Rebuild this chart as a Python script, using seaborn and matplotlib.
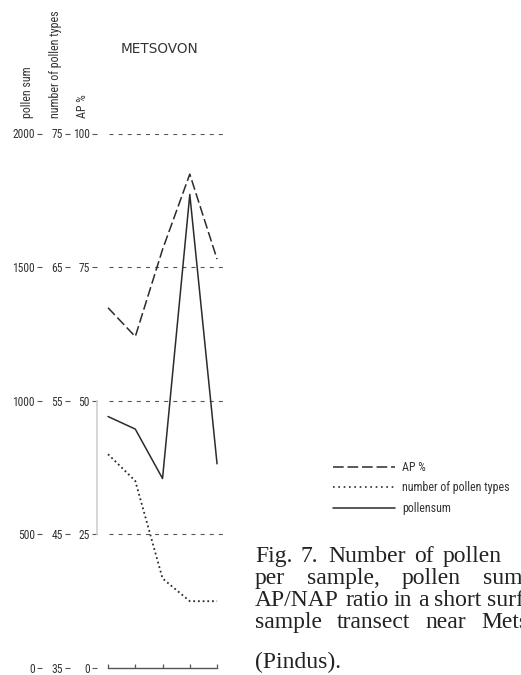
import matplotlib
matplotlib.use("Agg")
import matplotlib.pyplot as plt
from matplotlib.lines import Line2D
import pandas as pd
import seaborn as sns

# ---- data -------------------------------------------------------------
samples = [1, 2, 3, 4, 5]
pollen_sum = [941, 894, 709, 1772, 764]
ap_percent = [67.4, 62.0, 78.3, 92.4, 76.5]
pollen_types = [51.0, 49.0, 41.7, 40.0, 40.0]

sum_ticks = [0, 500, 1000, 1500, 2000]
types_ticks = [35, 45, 55, 65, 75]
ap_ticks = [0, 25, 50, 75, 100]

site_name = "METSOVON"
axis_titles = ["pollen sum", "number of pollen types", "AP %"]
legend_labels = ["AP %", "number of pollen types", "pollensum"]

# caption, justified word by word (runs off the right edge of the page)
caption_words = [
    [("Fig.", 255), ("7.", 301), ("Number", 328), ("of", 414), ("pollen", 443)],
    [("per", 255), ("sample,", 307), ("pollen", 402), ("sum", 483)],
    [("AP/NAP", 255), ("ratio", 345), ("in", 394), ("a", 418), ("short", 434), ("surface", 487)],
    [("sample", 255), ("transect", 337), ("near", 425), ("Metsovon", 481)],
    [("(Pindus).", 255)],
]
caption_baselines = [562, 584, 606, 628, 668]

# ---- style ------------------------------------------------------------
sns.set_style("white")
sans = ["Roboto Condensed", "Liberation Sans Narrow", "Noto Sans Condensed",
        "DejaVu Sans Condensed", "Roboto", "DejaVu Sans"]
plt.rcParams["font.family"] = sans
ink = "#2b2b2b"
grid_ink = "#555555"
label_ink = "#333333"

W, H = 521, 675
fig = plt.figure(figsize=(W / 100, H / 100), dpi=100)

# plotting area: sample 1 .. 5, pollen sum 0 .. 2000
ax_left_px, ax_right_px = 105.3, 222.5
ax_top_px, ax_bottom_px = 133.5, 668.0
ax = fig.add_axes([ax_left_px / W, (H - ax_bottom_px) / H,
                   (ax_right_px - ax_left_px) / W, (ax_bottom_px - ax_top_px) / H])
ax_types = ax.twinx()
ax_ap = ax.twinx()

df = pd.DataFrame({"sample": samples, "pollen_sum": pollen_sum,
                   "ap_percent": ap_percent, "pollen_types": pollen_types})

sns.lineplot(data=df, x="sample", y="pollen_sum", ax=ax, color=ink,
             linewidth=1.1, linestyle="-")
sns.lineplot(data=df, x="sample", y="pollen_types", ax=ax_types, color=ink,
             linewidth=1.3, linestyle=(0, (1, 1.6)))
sns.lineplot(data=df, x="sample", y="ap_percent", ax=ax_ap, color=ink,
             linewidth=1.1, linestyle=(0, (6.5, 2.4)))

ax.set_xlim(0.9, 5.2)
ax.set_ylim(sum_ticks[0], sum_ticks[-1])
ax_types.set_ylim(types_ticks[0], types_ticks[-1])
ax_ap.set_ylim(ap_ticks[0], ap_ticks[-1])

# dashed reference lines at the labelled levels
for level in sum_ticks[1:]:
    ax.axhline(level, xmin=0.03, color=grid_ink, linewidth=0.8,
               linestyle=(0, (3.6, 4.6)), zorder=0)

# sample axis along the bottom
ax.set_xticks(samples)
ax.tick_params(axis="x", bottom=True, direction="in", length=3.2, width=0.9,
               color="#555555", labelbottom=False)
for side in ("top", "right"):
    ax.spines[side].set_visible(False)
ax.spines["bottom"].set_bounds(samples[0], samples[-1])
ax.spines["bottom"].set_color("#555555")
ax.spines["bottom"].set_linewidth(1.0)

# three stacked value scales on the left
scales = [
    (ax, sum_ticks, 45.6),
    (ax_types, types_ticks, 25.4),
    (ax_ap, ap_ticks, 6.0),
]
for a, ticks, offset in scales:
    a.set_xlabel("")
    a.set_ylabel("")
    a.yaxis.set_ticks_position("left")
    a.set_yticks(ticks)
    a.set_yticklabels([str(t) for t in ticks])
    for side in ("top", "right", "bottom"):
        if a is not ax or side != "bottom":
            a.spines[side].set_visible(False)
    a.spines["left"].set_visible(True)
    a.spines["left"].set_position(("outward", offset))
    a.spines["left"].set_linewidth(0)
    a.tick_params(axis="y", left=True, direction="out", length=3.6, width=0.8,
                  color="#555555", pad=1.6, labelsize=8.3, labelcolor=label_ink)
ax_ap.spines["left"].set_linewidth(1.2)
ax_ap.spines["left"].set_color("#cfcfcf")
ax_ap.spines["left"].set_bounds(ap_ticks[1], ap_ticks[2])

# scale titles, written upwards
for title, x_px in zip(axis_titles, [27, 55, 82]):
    fig.text(x_px / W, (H - 118) / H, title, rotation=90, ha="center",
             va="bottom", fontsize=8.6, color=label_ink)

fig.text(159 / W, (H - 49) / H, site_name, ha="center", va="center",
         family="DejaVu Sans", fontsize=9.8, color=label_ink)

# legend
handles = [
    Line2D([], [], color=ink, linewidth=1.1, linestyle=(0, (7, 2.5))),
    Line2D([], [], color=ink, linewidth=1.2, linestyle=(0, (1, 2.2))),
    Line2D([], [], color=ink, linewidth=1.1, linestyle="-"),
]
leg = fig.legend(handles, legend_labels, loc="upper left",
                 bbox_to_anchor=(333 / W, (H - 461) / H), frameon=False,
                 fontsize=8.6, handlelength=5.2, handletextpad=0.58,
                 labelspacing=0.62, borderpad=0, borderaxespad=0)
for t in leg.get_texts():
    t.set_color(label_ink)

# caption
for line, baseline_px in zip(caption_words, caption_baselines):
    for word, x_px in line:
        fig.text(x_px / W, (H - baseline_px) / H, word, ha="left",
                 va="baseline", family="Liberation Serif", fontsize=17,
                 color="#222222")

fig.savefig("out.png", dpi=100)
